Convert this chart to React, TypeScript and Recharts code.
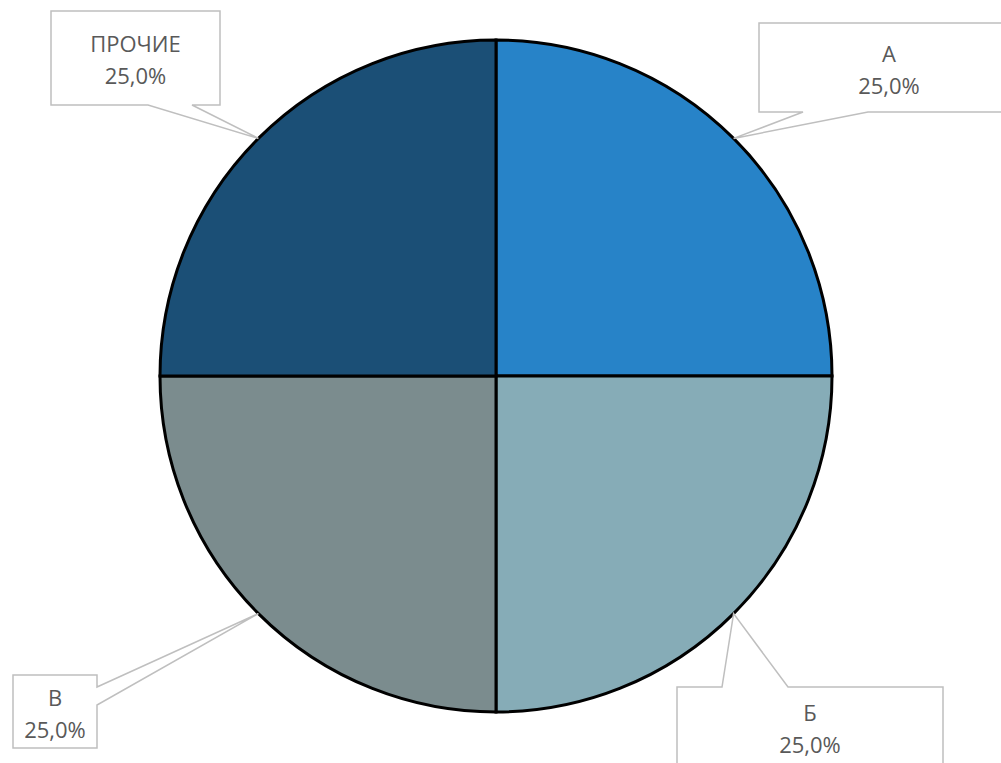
import { PieChart, Pie, Cell } from "recharts";

// shares by group, clockwise from 12 o'clock
const names = ["А", "Б", "В", "ПРОЧИЕ"];
const shares = [25, 25, 25, 25];
const colors = ["#2783C8", "#86ACB7", "#7B8C8E", "#1B4F76"];

const data = names.map((name, i) => ({ name, value: shares[i] }));

// callout boxes (layout only) — side says where the pointer leaves the box
const callouts = [
  { x: 759, y: 23, w: 260, h: 89, side: "bottom", a: 803, b: 868 },
  { x: 677, y: 687, w: 266, h: 80, side: "top", a: 722, b: 788 },
  { x: 13, y: 675, w: 84, h: 73, side: "right", a: 687, b: 705 },
  { x: 51, y: 11, w: 169, h: 94, side: "bottom", a: 148, b: 192 },
];

const RAD = Math.PI / 180;

function calloutPath(c: any, tx: number, ty: number) {
  const r = c.x + c.w;
  const bt = c.y + c.h;
  if (c.side === "top")
    return `M${c.x},${c.y} H${c.a} L${tx},${ty} L${c.b},${c.y} H${r} V${bt} H${c.x} Z`;
  if (c.side === "right")
    return `M${c.x},${c.y} H${r} V${c.a} L${tx},${ty} L${r},${c.b} V${bt} H${c.x} Z`;
  return `M${c.x},${c.y} H${r} V${bt} H${c.b} L${tx},${ty} L${c.a},${bt} H${c.x} Z`;
}

const renderCallout = (props: any) => {
  const { cx, cy, midAngle, outerRadius, index, name, percent } = props;
  const c = callouts[index];
  const tx = cx + outerRadius * Math.cos(-midAngle * RAD);
  const ty = cy + outerRadius * Math.sin(-midAngle * RAD);
  const mid = c.y + c.h / 2;
  const pct = (percent * 100).toFixed(1).replace(".", ",") + "%";
  return (
    <g key={`callout-${index}`}>
      <path d={calloutPath(c, tx, ty)} fill="#fff" stroke="#BFBFBF" strokeWidth={1.5} />
      <text x={c.x + c.w / 2} y={mid - 6} textAnchor="middle" fill="#595959" fontSize={22}>
        {name}
      </text>
      <text x={c.x + c.w / 2} y={mid + 26} textAnchor="middle" fill="#595959" fontSize={22}>
        {pct}
      </text>
    </g>
  );
};

export default function App() {
  return (
    <div style={{ position: "absolute", left: 0, top: 0, fontFamily: "'Open Sans', sans-serif" }}>
      <PieChart width={1001} height={763} margin={{ top: 0, right: 0, bottom: 0, left: 0 }}>
        <Pie
          data={data}
          dataKey="value"
          nameKey="name"
          cx={496}
          cy={376}
          outerRadius={336}
          startAngle={90}
          endAngle={-270}
          stroke="#000"
          strokeWidth={3}
          labelLine={false}
          label={renderCallout}
          isAnimationActive={false}
        >
          {data.map((d, i) => (
            <Cell key={d.name} fill={colors[i]} />
          ))}
        </Pie>
      </PieChart>
    </div>
  );
}
